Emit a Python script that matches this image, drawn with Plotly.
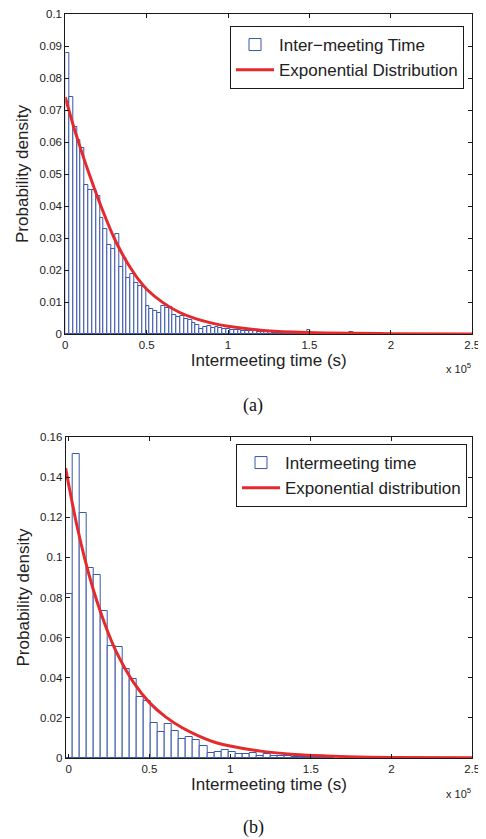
import plotly.graph_objects as go

# ---------------- data ----------------
# (a) histogram: bin start / width in seconds, density per bin
top_bin_start = -2355
top_bin_width = 2355
top_density = [0.0356, 0.0879, 0.0742, 0.0646, 0.0606, 0.0580, 0.0466, 0.0450, 0.0450, 0.0432,
               0.0361, 0.0327, 0.0277, 0.0267, 0.0313, 0.0210, 0.0236, 0.0176, 0.0188, 0.0160,
               0.0150, 0.0148, 0.0087, 0.0077, 0.0073, 0.0065, 0.0088, 0.0082, 0.0083, 0.0060,
               0.0054, 0.0056, 0.0046, 0.0044, 0.0035, 0.0028, 0.0015, 0.0022, 0.0024, 0.0019,
               0.0021, 0.0020, 0.0017, 0.0016, 0.0014, 0.0012, 0.0011, 0.0010, 0.0009, 0.0008,
               0.0008, 0.0007, 0.0006, 0.0005, 0.0005, 0.0004, 0.0004, 0.0003, 0.0003, 0.0003,
               0.0002, 0.0002, 0.0002, 0.0003, 0.0012, 0.0003, 0.0002, 0.0002, 0.0001, 0.0001,
               0.0001, 0.0001, 0.0001, 0.0001, 0.0001, 0.0005]
top_curve_x = [0, 5e3, 1e4, 1.5e4, 2e4, 2.5e4, 3e4, 3.5e4, 4e4, 4.5e4, 5e4, 6e4, 7e4, 8e4,
               9e4, 1e5, 1.2e5, 1.4e5, 1.6e5, 2e5, 2.5e5]
top_curve_y = [0.0740, 0.0650, 0.0570, 0.0495, 0.0425, 0.0360, 0.0300, 0.0250, 0.0207, 0.0170,
               0.0140, 0.0098, 0.0068, 0.0048, 0.0034, 0.0024, 0.0012, 0.0006, 0.0003, 0.0001, 0.0]

# (b) histogram
bot_bin_start = -1900
bot_bin_width = 4385
bot_density = [0.0816, 0.1515, 0.1221, 0.0946, 0.0912, 0.0734, 0.0558, 0.0555, 0.0445, 0.0392,
               0.0306, 0.0284, 0.0176, 0.0131, 0.0169, 0.0135, 0.0095, 0.0103, 0.0090, 0.0061,
               0.0023, 0.0028, 0.0040, 0.0032, 0.0018, 0.0018, 0.0023, 0.0012, 0.0020, 0.0012,
               0.0011, 0.0008, 0.0007, 0.0005, 0.0004, 0.0004, 0.0003, 0.0002]
bot_curve_x = [-2000, 0, 5e3, 1e4, 1.5e4, 2e4, 2.5e4, 3e4, 4e4, 5e4, 6e4, 7e4, 8e4, 9e4,
               1e5, 1.2e5, 1.4e5, 1.6e5, 1.8e5, 2e5, 2.5e5]
bot_curve_y = [0.1445, 0.1360, 0.1160, 0.0990, 0.0845, 0.0720, 0.0612, 0.0520, 0.0378, 0.0276,
               0.0205, 0.0152, 0.0112, 0.0080, 0.0060, 0.0033, 0.0018, 0.0010, 0.0005, 0.0003, 0.0001]

x_tick_vals = [0, 50000, 100000, 150000, 200000, 250000]
x_tick_text = ["0", "0.5", "1", "1.5", "2", "2.5"]
top_y_ticks = [0, 0.01, 0.02, 0.03, 0.04, 0.05, 0.06, 0.07, 0.08, 0.09, 0.1]
top_y_text = ["0", "0.01", "0.02", "0.03", "0.04", "0.05", "0.06", "0.07", "0.08", "0.09", "0.1"]
bot_y_ticks = [0, 0.02, 0.04, 0.06, 0.08, 0.1, 0.12, 0.14, 0.16]
bot_y_text = ["0", "0.02", "0.04", "0.06", "0.08", "0.1", "0.12", "0.14", "0.16"]

top_names = ["Inter\u2212meeting Time", "Exponential Distribution"]
bot_names = ["Intermeeting time", "Exponential distribution"]
x_title = "Intermeeting time (s)"
y_title = "Probability density"

# ---------------- styles ----------------
OFF = 8                      # page body margin
W, H = 486 - OFF, 839 - OFF
BLUE = "#3a58a8"
RED = "#e42a2c"
AX = "#1a1a1a"
FONT = "Arial, Liberation Sans, Helvetica, sans-serif"

def centers(start, width, n):
    return [start + width * (i + 0.5) for i in range(n)]

def fx(px):  # page pixel -> paper x
    return (px - OFF) / W

def fy(py):  # page pixel -> paper y
    return (H - (py - OFF)) / H

fig = go.Figure()

fig.add_trace(go.Bar(
    x=centers(top_bin_start, top_bin_width, len(top_density)), y=top_density,
    width=top_bin_width, marker=dict(color="white", line=dict(color=BLUE, width=1)),
    name=top_names[0], xaxis="x", yaxis="y", legend="legend"))
fig.add_trace(go.Scatter(
    x=top_curve_x, y=top_curve_y, mode="lines", line=dict(color=RED, width=3, shape="spline"),
    name=top_names[1], xaxis="x", yaxis="y", legend="legend"))

fig.add_trace(go.Bar(
    x=centers(bot_bin_start, bot_bin_width, len(bot_density)), y=bot_density,
    width=bot_bin_width, marker=dict(color="white", line=dict(color=BLUE, width=1)),
    name=bot_names[0], xaxis="x2", yaxis="y2", legend="legend2"))
fig.add_trace(go.Scatter(
    x=bot_curve_x, y=bot_curve_y, mode="lines", line=dict(color=RED, width=3, shape="spline"),
    name=bot_names[1], xaxis="x2", yaxis="y2", legend="legend2"))

axis_common = dict(showline=True, linecolor=AX, linewidth=1, mirror="ticks", ticks="inside",
                   ticklen=4, tickcolor=AX, showgrid=False, zeroline=False,
                   ticklabeloverflow="allow",
                   tickfont=dict(family=FONT, size=11.5, color="#222"), automargin=False)

fig.update_layout(
    width=W, height=H, margin=dict(l=0, r=0, t=0, b=0),
    paper_bgcolor="white", plot_bgcolor="white", bargap=0, barmode="overlay",
    font=dict(family=FONT, color="#222"),
    xaxis=dict(domain=[fx(65.3), fx(472.3)], range=[0, 250040], tickvals=x_tick_vals,
               ticktext=x_tick_text, anchor="y",
               title=dict(text=x_title, font=dict(size=17, family=FONT), standoff=4),
               **axis_common),
    yaxis=dict(domain=[fy(334), fy(14)], range=[0, 0.1], tickvals=top_y_ticks, ticktext=top_y_text,
               anchor="x", title=dict(text=y_title, font=dict(size=17, family=FONT), standoff=6),
               **axis_common),
    xaxis2=dict(domain=[fx(65.7), fx(472.3)], range=[-1900, 250040], tickvals=x_tick_vals,
                ticktext=x_tick_text, anchor="y2",
                title=dict(text=x_title, font=dict(size=17, family=FONT), standoff=4),
                **axis_common),
    yaxis2=dict(domain=[fy(758), fy(437)], range=[0, 0.16], tickvals=bot_y_ticks, ticktext=bot_y_text,
                anchor="x2", title=dict(text=y_title, font=dict(size=17, family=FONT), standoff=6),
                **axis_common),
    legend=dict(x=fx(464), xanchor="right", y=fy(26), yanchor="top",
                bgcolor="white", bordercolor=AX, borderwidth=1,
                font=dict(family=FONT, size=17, color="#222"), tracegroupgap=0,
                itemwidth=38),
    legend2=dict(x=fx(467), xanchor="right", y=fy(444), yanchor="top",
                 bgcolor="white", bordercolor=AX, borderwidth=1,
                 font=dict(family=FONT, size=17, color="#222"), tracegroupgap=0,
                 itemwidth=38),
    showlegend=True,
)

for yc in (368, 793):
    fig.add_annotation(text="x 10<sup>5</sup>", xref="paper", yref="paper",
                       x=fx(473), y=fy(yc), xanchor="right", yanchor="middle", showarrow=False,
                       font=dict(family=FONT, size=11, color="#222"))

for txt, yc in [("(a)", 406), ("(b)", 827)]:
    fig.add_annotation(text=txt, xref="paper", yref="paper", x=fx(253), y=fy(yc),
                       xanchor="center", yanchor="middle", showarrow=False,
                       font=dict(family="Liberation Serif, Times New Roman, serif", size=18,
                                 color="#111"))

fig.write_html("out.html")
